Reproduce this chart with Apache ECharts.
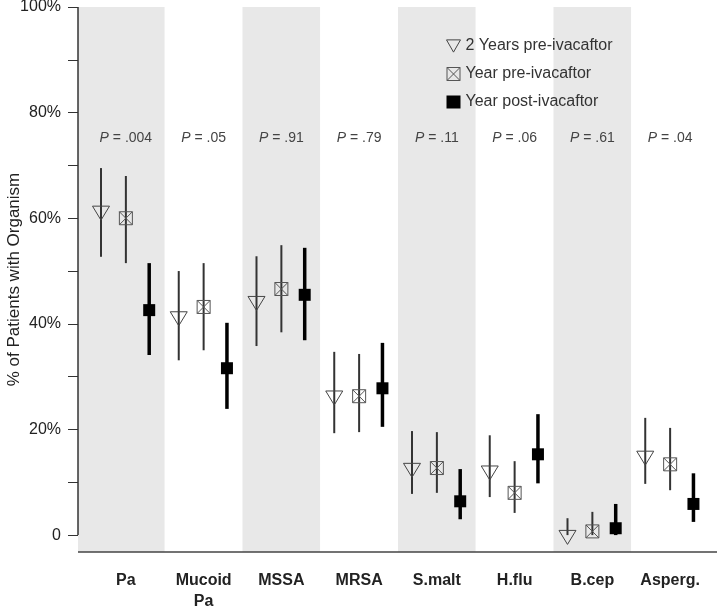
<!DOCTYPE html>
<html>
<head>
<meta charset="utf-8">
<script src="https://cdn.jsdelivr.net/npm/echarts@6/dist/echarts.min.js"></script>
<style>
  html, body { margin: 0; padding: 0; background: #fff; }
  #chart { width: 720px; height: 608px; }
</style>
</head>
<body>
<div id="chart"></div>
<script>
// organisms on the x axis
const categories = ['Pa', 'Mucoid\nPa', 'MSSA', 'MRSA', 'S.malt', 'H.flu', 'B.cep', 'Asperg.'];
const pValues = ['.004', '.05', '.91', '.79', '.11', '.06', '.61', '.04'];

// % of patients, with lower / upper interval
const twoYearsPre = [61.4, 41.4, 44.3, 26.4, 12.7, 12.2, 0.0, 15.0];
const twoYearsPreLow = [52.7, 33.1, 35.8, 19.3, 7.8, 7.2, 0.0, 9.7];
const twoYearsPreHigh = [69.5, 50.0, 52.8, 34.7, 19.7, 18.9, 3.2, 22.2];

const yearPre = [60.0, 43.2, 46.6, 26.3, 12.7, 8.0, 0.7, 13.4];
const yearPreLow = [51.5, 35.0, 38.4, 19.5, 8.0, 4.2, 0.0, 8.5];
const yearPreHigh = [68.0, 51.5, 54.9, 34.3, 19.5, 14.0, 4.4, 20.3];

const yearPost = [42.6, 31.6, 45.5, 27.8, 6.4, 15.3, 1.3, 5.9];
const yearPostLow = [34.1, 23.9, 36.9, 20.5, 3.0, 9.8, 0.0, 2.5];
const yearPostHigh = [51.5, 40.2, 54.4, 36.4, 12.5, 22.9, 5.9, 11.7];

// axis ticks
const yTicks = [0, 10, 20, 30, 40, 50, 60, 70, 80, 90, 100];
const yLabels = [0, 20, 40, 60, 80, 100];
const pLabelLevel = 75.2;

const FONT = '"Liberation Sans", Arial, Helvetica, sans-serif';
const BAND_GREY = '#e8e8e8';
const chart = echarts.init(document.getElementById('chart'));

function rows(vals, lo, hi) {
  return vals.map((v, i) => [i, v, lo[i], hi[i]]);
}

// draws interval line + marker for one group
function renderGroup(kind, shift) {
  return function (params, api) {
    const i = api.value(0);
    const band = api.size([1, 0])[0];
    const x = api.coord([i, 0])[0] + band * shift;
    const y = api.coord([i, api.value(1)])[1];
    const yLo = api.coord([i, api.value(2)])[1];
    const yHi = api.coord([i, api.value(3)])[1];
    const filled = kind === 'filled';
    const children = [{
      type: 'line',
      shape: { x1: x, y1: yHi, x2: x, y2: yLo },
      style: { stroke: filled ? '#000' : '#333', lineWidth: filled ? 3.5 : 2 }
    }];
    if (kind === 'tri') {
      children.push({
        type: 'polygon',
        shape: { points: [[x - 8.5, y - 4.7], [x + 8.5, y - 4.7], [x, y + 9.3]] },
        style: { fill: 'none', stroke: '#444', lineWidth: 1 }
      });
    } else if (kind === 'box') {
      const s = 6.5;
      children.push({
        type: 'rect',
        shape: { x: x - s, y: y - s, width: 2 * s, height: 2 * s },
        style: { fill: 'none', stroke: '#555', lineWidth: 1 }
      });
      children.push({
        type: 'polyline',
        shape: { points: [[x - s, y - s], [x + s, y + s]] },
        style: { fill: 'none', stroke: '#555', lineWidth: 1 }
      });
      children.push({
        type: 'polyline',
        shape: { points: [[x + s, y - s], [x - s, y + s]] },
        style: { fill: 'none', stroke: '#555', lineWidth: 1 }
      });
    } else {
      children.push({
        type: 'rect',
        shape: { x: x - 6, y: y - 6, width: 12, height: 12 },
        style: { fill: '#000' }
      });
    }
    return { type: 'group', children: children };
  };
}

const Y_MIN = -3.2;

const option = {
  animation: false,
  backgroundColor: '#fff',
  grid: { left: 87, right: 11, top: 7, bottom: 56, outerBoundsMode: 'none', containLabel: false },
  legend: {
    orient: 'vertical',
    left: 441,
    top: 33,
    itemWidth: 14,
    itemHeight: 13,
    itemGap: 12,
    textStyle: { fontFamily: FONT, fontSize: 16, color: '#333' },
    data: [
      {
        name: '2 Years pre-ivacaftor',
        icon: 'path://M0,0L16,0L8,14Z',
        itemStyle: { color: 'transparent', borderColor: '#444', borderWidth: 1 }
      },
      {
        name: 'Year pre-ivacaftor',
        icon: 'path://M0,0H10V10H0Z M0,0L10,10 M10,0L0,10',
        itemStyle: { color: 'transparent', borderColor: '#555', borderWidth: 1 }
      },
      {
        name: 'Year post-ivacaftor',
        icon: 'rect',
        itemStyle: { color: '#000' }
      }
    ]
  },
  xAxis: {
    type: 'category',
    data: categories,
    axisLine: { show: false },
    axisTick: { show: false },
    axisLabel: {
      interval: 0,
      margin: 18,
      fontFamily: FONT,
      fontSize: 16,
      fontWeight: 'bold',
      color: '#222',
      lineHeight: 21
    },
    splitArea: {
      show: true,
      interval: 0,
      areaStyle: { color: [BAND_GREY, '#ffffff'] }
    }
  },
  yAxis: {
    type: 'value',
    min: Y_MIN,
    max: 100,
    offset: 9,
    name: '% of Patients with Organism',
    nameLocation: 'middle',
    nameGap: 55,
    nameMoveOverlap: false,
    nameTextStyle: { fontFamily: FONT, fontSize: 17, color: '#222' },
    axisLine: { show: false },
    axisTick: { show: true, length: 10, customValues: yTicks, lineStyle: { color: '#333' } },
    axisLabel: {
      customValues: yLabels,
      margin: 17,
      fontFamily: FONT,
      fontSize: 16,
      color: '#222',
      formatter: v => (v === 0 ? '0' : v + '%')
    },
    splitLine: { show: false }
  },
  series: [
    {
      name: 'P values',
      type: 'custom',
      data: pValues.map((p, i) => [i, pLabelLevel]),
      renderItem: function (params, api) {
        const pt = api.coord([api.value(0), api.value(1)]);
        return {
          type: 'text',
          x: pt[0],
          y: pt[1],
          style: {
            text: '{i|P} = ' + pValues[params.dataIndex],
            align: 'center',
            verticalAlign: 'middle',
            fontFamily: FONT,
            fontSize: 14,
            fill: '#444',
            rich: { i: { fontStyle: 'italic', fontFamily: FONT, fontSize: 14, color: '#444' } }
          }
        };
      },
      z: 3
    },
    {
      name: '2 Years pre-ivacaftor',
      type: 'custom',
      data: rows(twoYearsPre, twoYearsPreLow, twoYearsPreHigh),
      renderItem: renderGroup('tri', -0.32),
      itemStyle: { color: '#444' },
      z: 4
    },
    {
      name: 'Year pre-ivacaftor',
      type: 'custom',
      data: rows(yearPre, yearPreLow, yearPreHigh),
      renderItem: renderGroup('box', 0),
      itemStyle: { color: '#555' },
      z: 4
    },
    {
      name: 'Year post-ivacaftor',
      type: 'custom',
      data: rows(yearPost, yearPostLow, yearPostHigh),
      renderItem: renderGroup('filled', 0.30),
      itemStyle: { color: '#000' },
      z: 4
    }
  ]
};

chart.setOption(option);

// y axis line only from 0 to 100%, plus bottom frame line and left strip
const yZero = chart.convertToPixel({ yAxisIndex: 0 }, 0);
const yTop = chart.convertToPixel({ yAxisIndex: 0 }, 100);
const yBottom = chart.convertToPixel({ yAxisIndex: 0 }, Y_MIN);
const axisX = 78;
const firstBand = chart.convertToPixel({ xAxisIndex: 0 }, 0) - chart.getModel().getComponent('xAxis', 0).axis.getBandWidth() / 2;

chart.setOption({
  graphic: [
    {
      type: 'rect',
      shape: { x: axisX, y: yTop, width: firstBand - axisX + 0.5, height: yBottom - yTop },
      style: { fill: BAND_GREY },
      silent: true
    },
    {
      type: 'line',
      shape: { x1: axisX, y1: yTop, x2: axisX, y2: yZero },
      style: { stroke: '#333', lineWidth: 1.5 },
      z: 5
    },
    {
      type: 'line',
      shape: { x1: axisX, y1: yBottom, x2: 717, y2: yBottom },
      style: { stroke: '#444', lineWidth: 1.5 },
      z: 5
    }
  ]
});
</script>
</body>
</html>
